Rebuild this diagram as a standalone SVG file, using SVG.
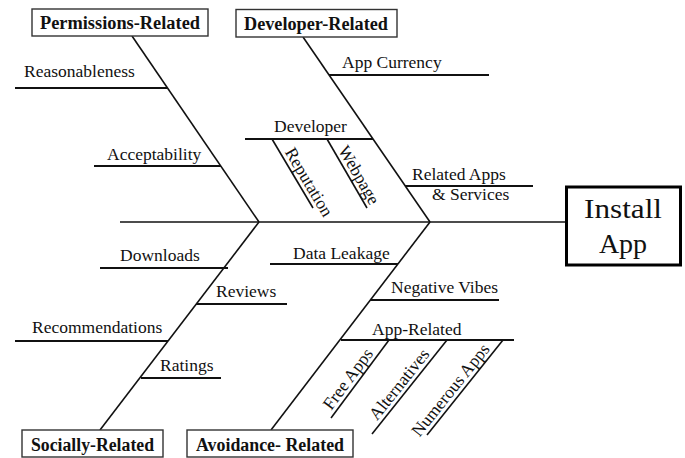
<svg xmlns="http://www.w3.org/2000/svg" width="685" height="458" viewBox="0 0 685 458">
<style>
.bg{fill:#fff}
.ln{stroke:#111;stroke-width:1.6;fill:none;stroke-linecap:butt}
.hl{stroke:#111;stroke-width:2;fill:none}
.box{fill:#fff;stroke:#333;stroke-width:1.4}
.big{fill:#fff;stroke:#000;stroke-width:3}
.t{font-family:"Liberation Serif","Times New Roman",serif;font-size:17.5px;fill:#111}
.h{font-family:"Liberation Serif","Times New Roman",serif;font-size:18px;font-weight:bold;fill:#111}
.ia{font-family:"Liberation Serif","Times New Roman",serif;font-size:28px;fill:#111;text-anchor:middle}
</style>
<rect class="bg" x="0" y="0" width="685" height="458"/>
<g id="connectors">
<line class="ln" x1="120" y1="222" x2="566" y2="222"/>
<line class="ln" x1="132" y1="36" x2="259" y2="222"/>
<line class="ln" x1="303" y1="37" x2="430" y2="222"/>
<line class="ln" x1="259" y1="222" x2="100" y2="430"/>
<line class="ln" x1="430" y1="222" x2="271" y2="430"/>
</g>
<g id="install-app">
<rect class="big" x="566.5" y="187" width="114" height="78"/>
<text class="ia" x="623" y="218" textLength="78" lengthAdjust="spacingAndGlyphs">Install</text>
<text class="ia" x="623" y="253">App</text>
</g>
<g id="permissions-related">
<rect class="box" x="32" y="9" width="176" height="27"/>
<text class="h" x="40" y="29" textLength="160" lengthAdjust="spacingAndGlyphs">Permissions-Related</text>
</g>
<g id="developer-related">
<rect class="box" x="236" y="9.5" width="161" height="27.5"/>
<text class="h" x="244" y="30" textLength="144" lengthAdjust="spacingAndGlyphs">Developer-Related</text>
</g>
<g id="socially-related">
<rect class="box" x="22" y="430" width="141" height="27"/>
<text class="h" x="31" y="451" textLength="123" lengthAdjust="spacingAndGlyphs">Socially-Related</text>
</g>
<g id="avoidance-related">
<rect class="box" x="187" y="430" width="166" height="27"/>
<text class="h" x="196" y="451" textLength="148" lengthAdjust="spacingAndGlyphs">Avoidance- Related</text>
</g>
<g id="reasonableness">
<line class="hl" x1="15" y1="88" x2="167" y2="88"/>
<text class="t" x="24" y="77">Reasonableness</text>
</g>
<g id="acceptability">
<line class="hl" x1="94" y1="166" x2="221" y2="166"/>
<text class="t" x="107" y="160">Acceptability</text>
</g>
<g id="app-currency">
<line class="hl" x1="329" y1="75" x2="489" y2="75"/>
<text class="t" x="342" y="68">App Currency</text>
</g>
<g id="developer">
<line class="hl" x1="245" y1="139" x2="373" y2="139"/>
<text class="t" x="274" y="132">Developer</text>
</g>
<g id="reputation">
<line class="ln" x1="272" y1="139" x2="313" y2="208"/>
<text class="t" x="304" y="185" text-anchor="middle" transform="rotate(59.3 304 185)">Reputation</text>
</g>
<g id="webpage">
<line class="ln" x1="327" y1="139" x2="367" y2="208"/>
<text class="t" x="354" y="178" text-anchor="middle" transform="rotate(60 354 178)">Webpage</text>
</g>
<g id="related-apps">
<line class="hl" x1="405" y1="186" x2="533" y2="186"/>
<text class="t" x="412" y="180">Related Apps</text>
<text class="t" x="432" y="200">&amp; Services</text>
</g>
<g id="downloads">
<line class="hl" x1="100" y1="268" x2="228" y2="268"/>
<text class="t" x="120" y="261">Downloads</text>
</g>
<g id="reviews">
<line class="hl" x1="196" y1="304" x2="287" y2="304"/>
<text class="t" x="216" y="297">Reviews</text>
</g>
<g id="recommendations">
<line class="hl" x1="15" y1="341" x2="168" y2="341"/>
<text class="t" x="32" y="333">Recommendations</text>
</g>
<g id="ratings">
<line class="hl" x1="141" y1="378" x2="221" y2="378"/>
<text class="t" x="160" y="371">Ratings</text>
</g>
<g id="data-leakage">
<line class="hl" x1="270" y1="264" x2="398" y2="264"/>
<text class="t" x="293" y="259">Data Leakage</text>
</g>
<g id="negative-vibes">
<line class="hl" x1="370" y1="300" x2="499" y2="300"/>
<text class="t" x="391" y="293">Negative Vibes</text>
</g>
<g id="app-related">
<line class="hl" x1="341" y1="340" x2="514" y2="340"/>
<text class="t" x="372" y="335">App-Related</text>
</g>
<g id="free-apps">
<line class="ln" x1="389" y1="340" x2="331" y2="418"/>
<text class="t" x="352.5" y="382.4" text-anchor="middle" transform="rotate(-53.3 352.5 382.4)">Free Apps</text>
</g>
<g id="alternatives">
<line class="ln" x1="447" y1="340" x2="372" y2="434"/>
<text class="t" x="403.7" y="387.8" text-anchor="middle" transform="rotate(-51.4 403.7 387.8)">Alternatives</text>
</g>
<g id="numerous-apps">
<line class="ln" x1="503" y1="340" x2="427" y2="435"/>
<text class="t" x="455" y="393.5" text-anchor="middle" transform="rotate(-51.3 455 393.5)">Numerous Apps</text>
</g>
</svg>
